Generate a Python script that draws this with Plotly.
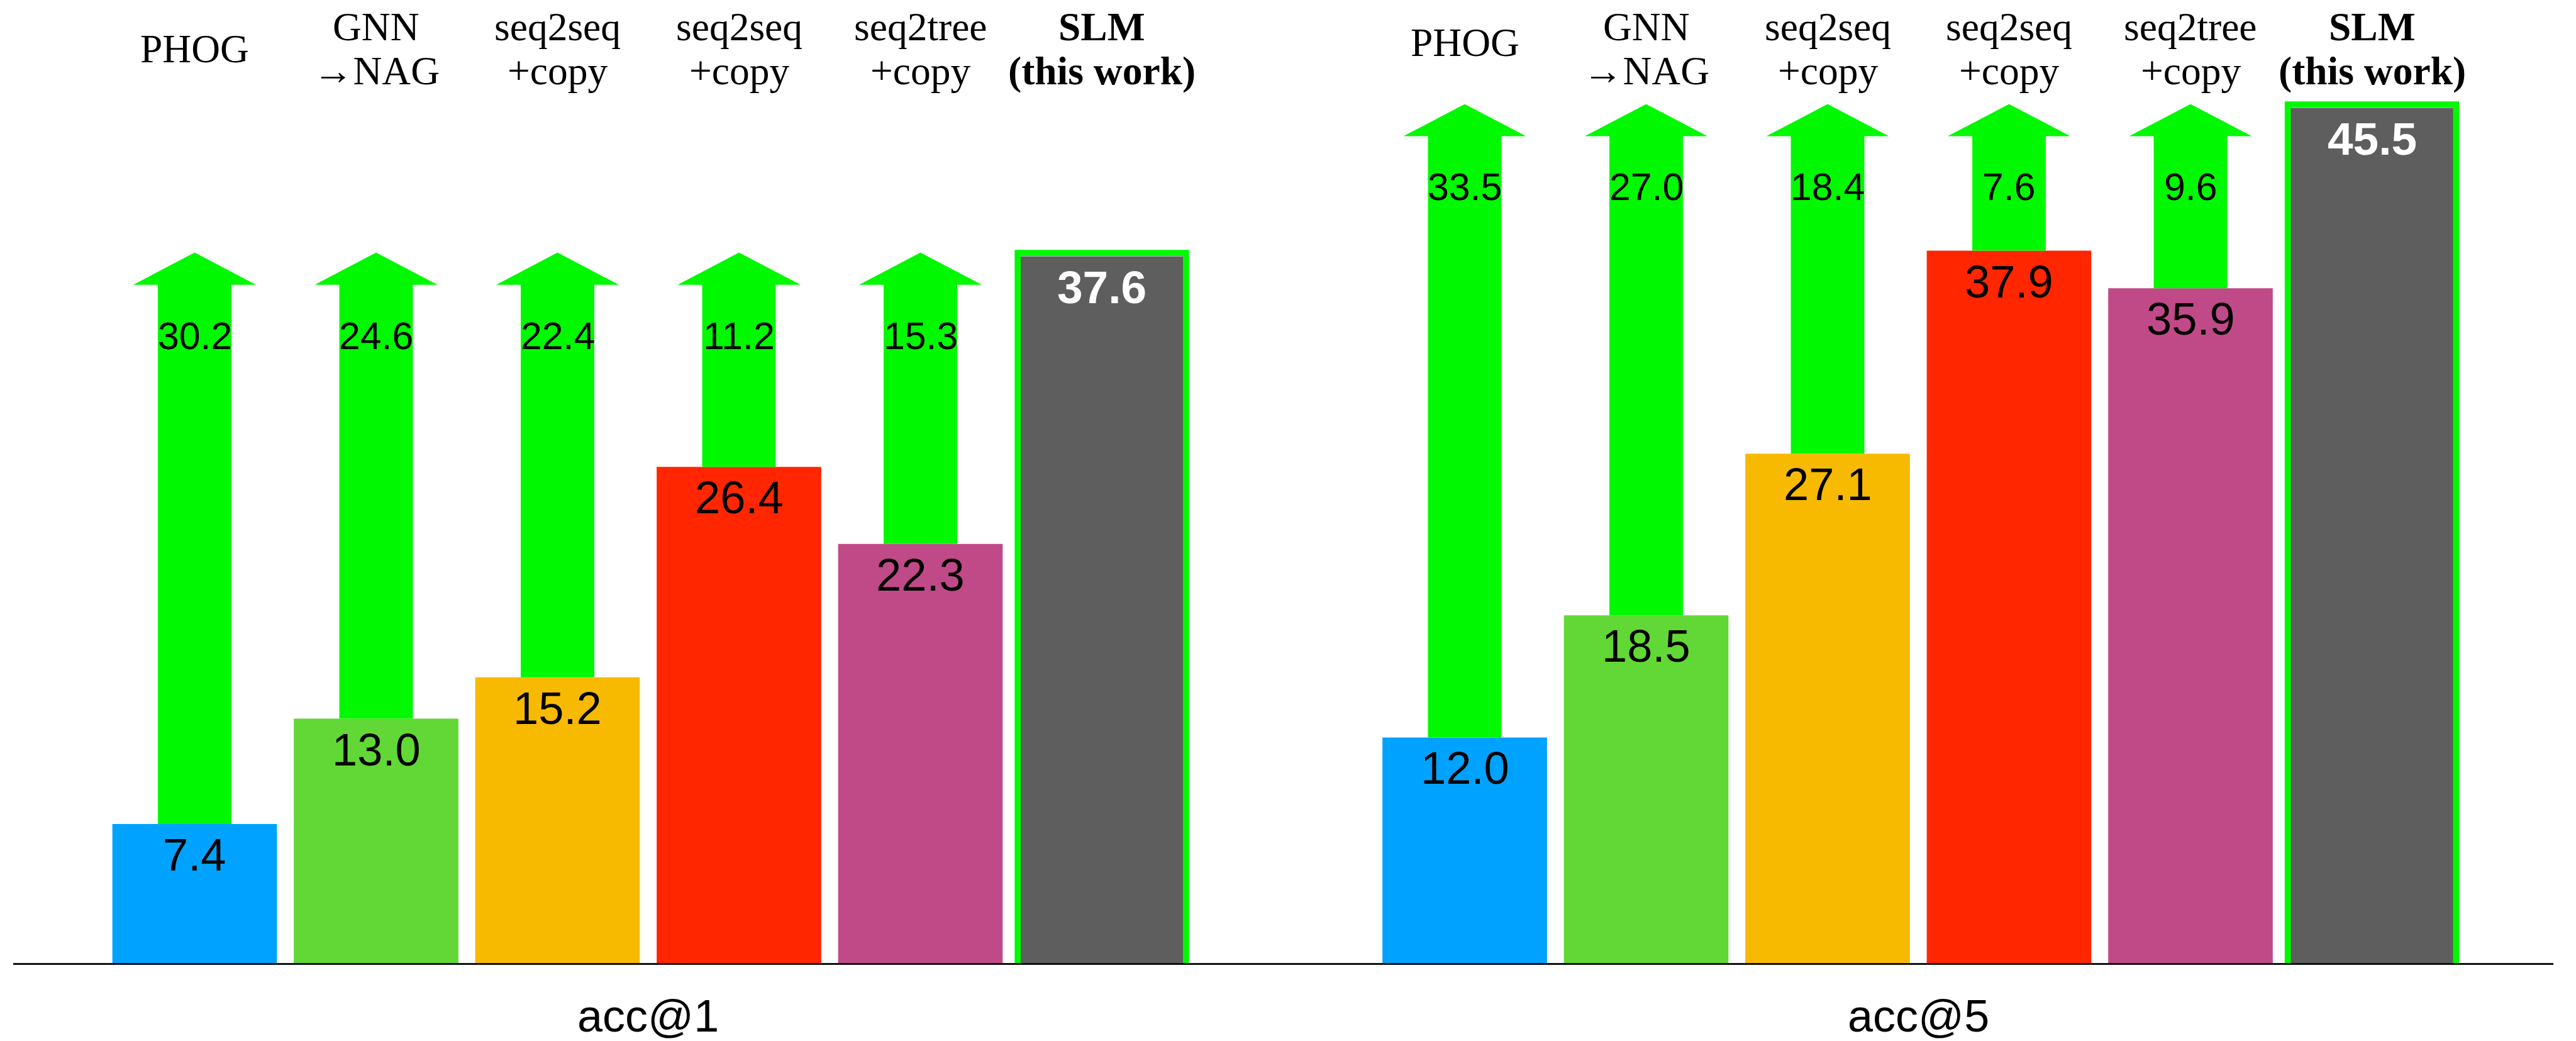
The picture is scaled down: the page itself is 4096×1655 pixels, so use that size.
import plotly.graph_objects as go

# ---- data -------------------------------------------------------------
methods_line1 = ["PHOG", "GNN", "seq2seq", "seq2seq", "seq2tree", "SLM"]
methods_line2 = ["", "→NAG", "+copy", "+copy", "+copy", "(this work)"]
bar_colors = ["#00A2FF", "#61D836", "#F8BA00", "#FF2600", "#C04A87", "#5E5E5E"]
metrics = ["acc@1", "acc@5"]
acc_at_1 = [7.4, 13.0, 15.2, 26.4, 22.3, 37.6]
acc_at_5 = [12.0, 18.5, 27.1, 37.9, 35.9, 45.5]
metric_values = [acc_at_1, acc_at_5]

# ---- styling ----------------------------------------------------------
S = 0.927                      # overall scale of the drawing
W, H = 4096, 1655
ARROW_GREEN = "#00F900"
SANS = "Liberation Sans, Arial, Helvetica, sans-serif"
SERIF = "Liberation Serif, Times New Roman, Times, serif"

GROUP_STRIDE = 7               # slots between the first bars of the two groups
BAR_WIDTH = 0.907
SHAFT_HALF = 0.2026
HEAD_HALF = 0.338
HEAD_LEN = 1.71                # arrow head length in value units
TIP_PAD = 0.2
HILITE_HALF = 0.4638
HILITE_PAD = 0.18

fig = go.Figure()
annotations = []
shapes = []

for g, (metric, values) in enumerate(zip(metrics, metric_values)):
    xs = [g * GROUP_STRIDE + i for i in range(len(values))]
    best = values[-1]

    # coloured bars
    fig.add_trace(go.Bar(
        x=xs, y=values, width=BAR_WIDTH,
        marker=dict(color=bar_colors, line=dict(width=0)),
        hoverinfo="skip", showlegend=False,
    ))

    # green arrows from each baseline up to the best score
    tip = best + TIP_PAD
    head_base = tip - HEAD_LEN
    for x, v in zip(xs[:-1], values[:-1]):
        px = [x - SHAFT_HALF, x + SHAFT_HALF, x + SHAFT_HALF, x + HEAD_HALF,
              x, x - HEAD_HALF, x - SHAFT_HALF, x - SHAFT_HALF]
        py = [v, v, head_base, head_base, tip, head_base, head_base, v]
        fig.add_trace(go.Scatter(
            x=px, y=py, mode="lines", fill="toself",
            fillcolor=ARROW_GREEN, line=dict(width=0, color=ARROW_GREEN),
            hoverinfo="skip", showlegend=False,
        ))
        # improvement label inside the arrow
        annotations.append(dict(
            x=x, y=best, xref="x", yref="y", yshift=-126,
            text=f"{best - v:.1f}", showarrow=False, yanchor="middle",
            font=dict(family=SANS, size=60.8, color="black"),
        ))

    # value labels inside bars
    for i, (x, v) in enumerate(zip(xs, values)):
        is_best = i == len(values) - 1
        annotations.append(dict(
            x=x, y=v, xref="x", yref="y", yshift=-49,
            text=f"<b>{v:.1f}</b>" if is_best else f"{v:.1f}",
            showarrow=False, yanchor="middle",
            font=dict(family=SANS, size=73 if is_best else 72.3,
                      color="white" if is_best else "black"),
        ))

    # highlight frame around the best bar
    shapes.append(dict(
        type="rect", xref="x", yref="y", layer="above",
        x0=xs[-1] - HILITE_HALF, x1=xs[-1] + HILITE_HALF,
        y0=-HILITE_PAD, y1=best + HILITE_PAD,
        line=dict(color=ARROW_GREEN, width=9.7), fillcolor="rgba(0,0,0,0)",
    ))

    # method names above the bars
    for i, x in enumerate(xs):
        l1, l2 = methods_line1[i], methods_line2[i]
        bold = i == len(xs) - 1
        fmt = (lambda s: f"<b>{s}</b>") if bold else (lambda s: s)
        font = dict(family=SERIF, size=63.5, color="black")
        if l2:
            annotations.append(dict(x=x, y=1, xref="x", yref="paper", yshift=-5.6,
                                    text=fmt(l1), showarrow=False, yanchor="middle", font=font))
            annotations.append(dict(x=x, y=1, xref="x", yref="paper", yshift=-75,
                                    text=fmt(l2), showarrow=False, yanchor="middle", font=font))
        else:
            annotations.append(dict(x=x, y=1, xref="x", yref="paper",
                                    yshift=-40.8 if g == 0 else -30.1,
                                    text=fmt(l1), showarrow=False, yanchor="middle", font=font))

    # metric name under each group
    annotations.append(dict(
        x=(xs[0] + xs[-1]) / 2, y=0, xref="x", yref="paper", yshift=-84.4,
        text=metric, showarrow=False, yanchor="middle",
        font=dict(family=SANS, size=72, color="black"),
    ))

fig.update_layout(
    width=W, height=H,
    margin=dict(l=21.3, r=36.2, t=37.1, b=124.2, pad=0),
    paper_bgcolor="white", plot_bgcolor="white",
    barmode="overlay",
    xaxis=dict(range=[-1, 13], showgrid=False, zeroline=False,
               showticklabels=False, ticks="", showline=True,
               linecolor="#111111", linewidth=2.6, fixedrange=True),
    yaxis=dict(range=[0, 50], visible=False, fixedrange=True),
    annotations=annotations,
    shapes=shapes,
    showlegend=False,
)

fig.write_html("out.html")
